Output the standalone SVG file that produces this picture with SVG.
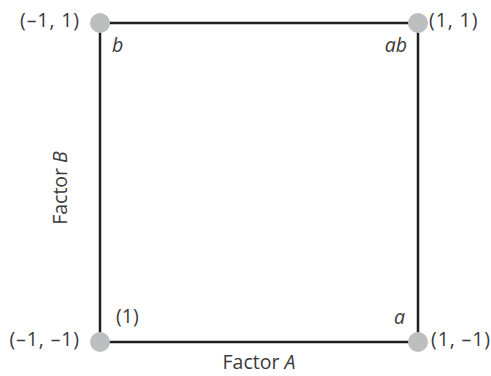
<svg xmlns="http://www.w3.org/2000/svg" width="491" height="376" viewBox="0 0 491 376">
<style>
text{font-family:"Open Sans","Noto Sans","Liberation Sans",sans-serif;font-size:19.5px;fill:#3a3a3a}
.i{font-style:italic}
.c{letter-spacing:0.9px}
.pt{fill:#bdbec0}
.edge{stroke:#231f20;stroke-width:2.5;fill:none}
</style>
<rect width="491" height="376" fill="#fff"/>
<g id="connectors">
<line class="edge" x1="100" y1="23" x2="418" y2="23"/>
<line class="edge" x1="100" y1="342" x2="418" y2="342"/>
<line class="edge" x1="100" y1="23" x2="100" y2="342"/>
<line class="edge" x1="418" y1="23" x2="418" y2="342"/>
</g>
<g id="node-b">
<circle class="pt" cx="100" cy="23" r="10"/>
<text class="c" x="80" y="27" text-anchor="end">(–1, 1)</text>
<text class="i" x="112" y="52">b</text>
</g>
<g id="node-ab">
<circle class="pt" cx="418" cy="23" r="10"/>
<text class="c" x="429" y="27">(1, 1)</text>
<text class="i" x="407" y="52" text-anchor="end">ab</text>
</g>
<g id="node-1">
<circle class="pt" cx="100" cy="342" r="10"/>
<text class="c" x="80" y="346" text-anchor="end">(–1, –1)</text>
<text x="116" y="323">(1)</text>
</g>
<g id="node-a">
<circle class="pt" cx="418" cy="342" r="10"/>
<text class="c" x="431" y="346">(1, –1)</text>
<text class="i" x="405" y="324" text-anchor="end">a</text>
</g>
<g id="axis-labels">
<text x="259" y="369" text-anchor="middle">Factor <tspan class="i">A</tspan></text>
<text transform="translate(67,188) rotate(-90)" text-anchor="middle">Factor <tspan class="i">B</tspan></text>
</g>
</svg>
